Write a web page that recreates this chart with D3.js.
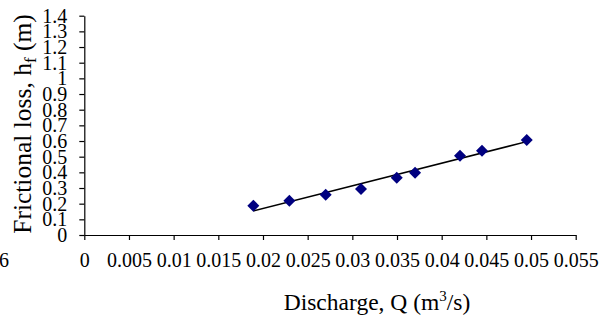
<!DOCTYPE html>
<html><head><meta charset="utf-8">
<script src="https://cdn.jsdelivr.net/npm/d3@7"></script>
<style>body{margin:0;background:#fff}svg{display:block}
svg text{font-family:"Liberation Serif","Times New Roman",Times,serif;fill:#000}</style>
</head><body>
<svg id="c" width="611" height="324"></svg>
<script>
const discharge = [0.01892,0.02295,0.02702,0.03097,0.03497,0.03702,0.04205,0.04451,0.04952];
const headLoss  = [0.187,0.219,0.257,0.294,0.366,0.398,0.506,0.538,0.607];
const xTickValues = [0,0.005,0.01,0.015,0.02,0.025,0.03,0.035,0.04,0.045,0.05,0.055];
const xTickLabels = ["0","0.005","0.01","0.015","0.02","0.025","0.03","0.035","0.04","0.045","0.05","0.055"];
const yTickValues = [0,0.1,0.2,0.3,0.4,0.5,0.6,0.7,0.8,0.9,1,1.1,1.2,1.3,1.4];
const yTickLabels = ["0","0.1","0.2","0.3","0.4","0.5","0.6","0.7","0.8","0.9","1","1.1","1.2","1.3","1.4"];

const svg = d3.select("#c");
const x = d3.scaleLinear().domain([0,0.055]).range([84.3,575.7]);
const y = d3.scaleLinear().domain([0,1.4]).range([235,15.7]);

const xAxis = d3.axisBottom(x).tickValues(xTickValues)
  .tickFormat((d,i)=>xTickLabels[i]).tickSizeInner(5).tickSizeOuter(0).tickPadding(13);
const gx = svg.append("g").attr("transform",`translate(0,${y(0)})`).call(xAxis);
const yAxis = d3.axisLeft(y).tickValues(yTickValues)
  .tickFormat((d,i)=>yTickLabels[i]).tickSizeInner(5).tickSizeOuter(0).tickPadding(12);
const gy = svg.append("g").attr("transform",`translate(${x(0)},0)`).call(yAxis);
[gx,gy].forEach(g=>{
  g.attr("font-family",null).attr("font-size",null);
  g.selectAll("text").style("font-size","20px");
  g.selectAll("line,path").attr("stroke","#000").attr("stroke-width",1.2);
});

// trendline (least squares)
const mx = d3.mean(discharge), my = d3.mean(headLoss);
let sxy=0, sxx=0;
discharge.forEach((v,i)=>{sxy+=(v-mx)*(headLoss[i]-my); sxx+=(v-mx)*(v-mx);});
const slope = sxy/sxx, icpt = my - slope*mx;
const x0 = d3.min(discharge), x1 = d3.max(discharge);
svg.append("line")
  .attr("x1",x(x0)).attr("y1",y(icpt+slope*x0))
  .attr("x2",x(x1)).attr("y2",y(icpt+slope*x1))
  .attr("stroke","#000").attr("stroke-width",1.5);

// markers
const diamond = d3.symbol().type(d3.symbolSquare).size(72);
svg.append("g").selectAll("path").data(discharge).join("path")
  .attr("d",diamond)
  .attr("transform",(d,i)=>`translate(${x(d)},${y(headLoss[i])}) rotate(45)`)
  .attr("fill","#000080");

// titles
svg.append("text").attr("transform","translate(31,124) rotate(-90)")
  .attr("text-anchor","middle").style("font-size","25.5px")
  .html('Frictional loss, h<tspan style="font-size:17px" dy="5">f</tspan><tspan dy="-5"> (m)</tspan>');
svg.append("text").attr("x",377).attr("y",310)
  .attr("text-anchor","middle").style("font-size","23.5px")
  .html('Discharge, Q (m<tspan style="font-size:15px" dy="-9">3</tspan><tspan dy="9">/s)</tspan>');
svg.append("text").attr("x",9).attr("y",267).attr("text-anchor","end")
  .style("font-size","20px").text("6");
</script>
</body></html>
